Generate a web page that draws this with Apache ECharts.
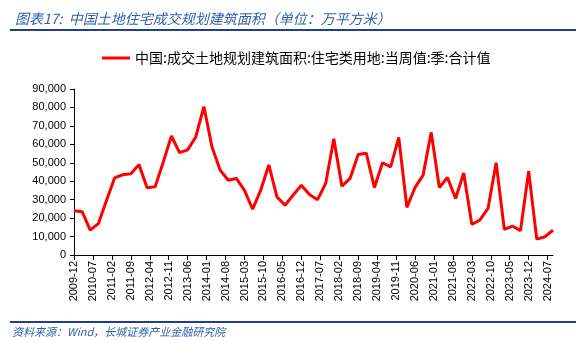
<!DOCTYPE html>
<html>
<head>
<meta charset="utf-8">
<script src="https://cdn.jsdelivr.net/npm/echarts@6/dist/echarts.min.js"></script>
<style>html,body{margin:0;padding:0;background:#fff;}#c{width:584px;height:341px;}</style>
</head>
<body>
<div id="c"></div>
<script>
const titleText = '图表17:  中国土地住宅成交规划建筑面积（单位：万平方米）';
const sourceText = '资料来源：Wind，长城证券产业金融研究院';
const seriesName = '中国:成交土地规划建筑面积:住宅类用地:当周值:季:合计值';
const axisStart = [2009, 12];
const axisEnd = [2024, 9];
const quarters = [
 '2009-12','2010-03','2010-06','2010-09','2010-12','2011-03','2011-06','2011-09','2011-12',
 '2012-03','2012-06','2012-09','2012-12','2013-03','2013-06','2013-09','2013-12',
 '2014-03','2014-06','2014-09','2014-12','2015-03','2015-06','2015-09','2015-12',
 '2016-03','2016-06','2016-09','2016-12','2017-03','2017-06','2017-09','2017-12',
 '2018-03','2018-06','2018-09','2018-12','2019-03','2019-06','2019-09','2019-12',
 '2020-03','2020-06','2020-09','2020-12','2021-03','2021-06','2021-09','2021-12',
 '2022-03','2022-06','2022-09','2022-12','2023-03','2023-06','2023-09','2023-12',
 '2024-03','2024-06','2024-09'
];
const values = [
 24000,23500,13500,17000,29500,41800,43500,44000,49000,
 36500,37000,50500,64500,55500,57000,64000,80500,
 58500,46000,40500,41500,35000,24800,35200,48800,
 31500,27000,32500,37800,32800,30000,38800,63000,
 37300,41500,54500,55200,36600,50000,47800,63800,
 25800,36500,43300,66500,36600,42000,30600,44500,
 16600,19000,25300,50000,13900,15700,13200,45500,
 8600,9900,13400
];

const months = [];
{
  let y = axisStart[0], m = axisStart[1];
  while (y < axisEnd[0] || (y === axisEnd[0] && m <= axisEnd[1])) {
    months.push(y + '-' + (m < 10 ? '0' + m : '' + m));
    m++; if (m > 12) { m = 1; y++; }
  }
}
const seriesData = quarters.map((q, i) => [q, values[i]]);

const chart = echarts.init(document.getElementById('c'), null, {renderer: 'canvas'});
const numFont = '"Liberation Sans", Arial, sans-serif';
const cjk = '"Noto Sans CJK SC", sans-serif';
chart.setOption({
  animation: false,
  backgroundColor: '#fff',
  title: {
    text: titleText, left: 10, top: 7,
    textStyle: {color: '#2E5FA8', fontSize: 14, fontStyle: 'italic', fontWeight: 'normal', fontFamily: cjk}
  },
  graphic: [
    {type: 'line', shape: {x1: 10, y1: 30, x2: 576, y2: 30}, style: {stroke: '#1F3F8A', lineWidth: 2}},
    {type: 'line', shape: {x1: 10, y1: 322, x2: 576, y2: 322}, style: {stroke: '#1F3F8A', lineWidth: 2}},
    {type: 'text', left: 12, top: 326, style: {text: sourceText, fill: '#2E5FA8', font: 'italic 11px "Noto Sans CJK SC", sans-serif'}}
  ],
  legend: {
    left: 97, top: 46,
    icon: 'rect', itemWidth: 28, itemHeight: 3,
    textStyle: {fontSize: 14, color: '#000', fontFamily: cjk},
    data: [seriesName]
  },
  grid: {left: 74, right: 31, top: 89, bottom: 86, containLabel: false},
  xAxis: {
    type: 'category', data: months, boundaryGap: false,
    axisLine: {lineStyle: {color: '#000', width: 1}},
    axisTick: {interval: 6, length: 5, lineStyle: {color: '#000'}},
    axisLabel: {interval: 6, rotate: 90, color: '#000', fontSize: 11, fontFamily: numFont, margin: 6}
  },
  yAxis: {
    type: 'value', min: 0, max: 90000, interval: 10000,
    axisLine: {show: true, lineStyle: {color: '#000', width: 1}},
    axisTick: {show: true, length: 4, lineStyle: {color: '#000'}},
    splitLine: {show: false},
    axisLabel: {color: '#000', fontSize: 11, fontFamily: numFont, margin: 8,
      formatter: v => v.toLocaleString('en-US')}
  },
  series: [{
    name: seriesName, type: 'line', data: seriesData,
    symbol: 'none', lineStyle: {color: '#FF0000', width: 3}, itemStyle: {color: '#FF0000'}
  }]
});
</script>
</body>
</html>
